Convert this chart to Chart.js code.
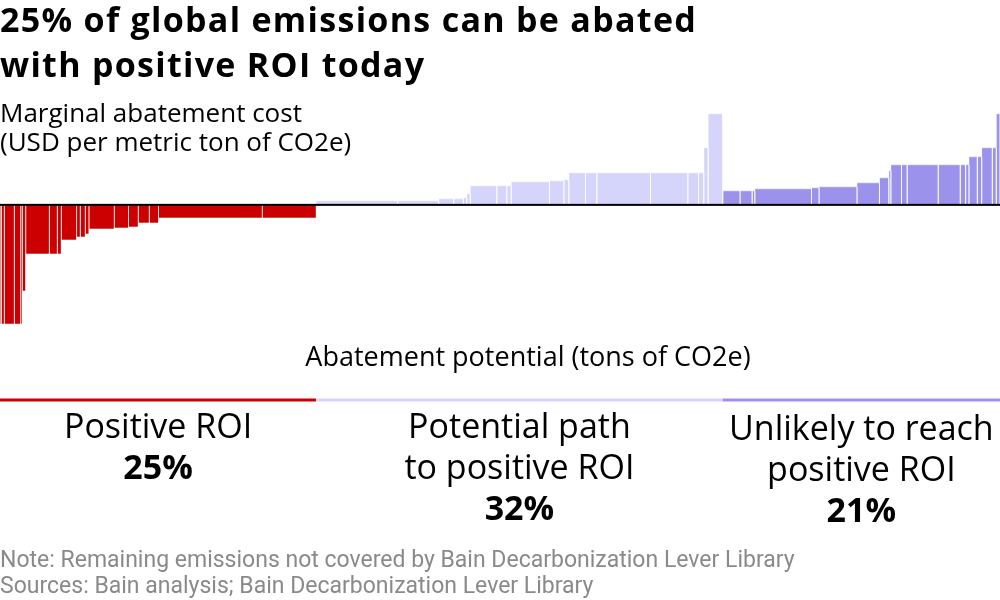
<!DOCTYPE html>
<html>
<head>
<meta charset="utf-8">
<script src="https://cdn.jsdelivr.net/npm/chart.js@4.4.1/dist/chart.umd.min.js"></script>
<style>
  html, body { margin: 0; padding: 0; background: #fff; }
</style>
</head>
<body>
<canvas id="myChart" width="1000" height="600"></canvas>
<script>
// abatement levers: width = share of global emissions (%),
// cost = marginal abatement cost (USD per metric ton of CO2e)
var positiveWidths = [0.10, 0.23, 0.78, 0.50, 0.12, 0.27, 1.84, 0.62, 0.31, 1.20,
  0.28, 0.39, 0.29, 1.97, 1.12, 0.75, 0.86, 0.73, 8.08, 4.21];
var positiveCosts = [-119, -119, -119, -119, -119, -86, -49, -49, -49, -35,
  -32, -32, -29, -24, -23, -22, -18, -18, -13, -13];

var pathWidths = [6.36, 3.20, 1.17, 0.76, 0.26, 0.27, 2.07, 0.78, 0.34, 2.99,
  1.12, 0.39, 1.30, 0.88, 4.19, 2.91, 0.83, 0.41, 0.34, 1.14];
var pathCosts = [4, 4, 6, 6, 7, 11, 19, 19, 19, 23,
  24, 25, 32, 32, 32, 32, 32, 32, 57, 91];

var unlikelyWidths = [1.35, 0.94, 0.21, 4.42, 0.59, 2.96, 1.75, 0.73, 0.16, 0.83,
  0.44, 2.42, 1.72, 0.42, 0.26, 0.65, 0.34, 0.83, 0.31, 0.29];
var unlikelyCosts = [14, 14, 14, 16, 17, 18, 22, 27, 34, 40,
  40, 40, 40, 40, 40, 48, 48, 57, 57, 91];

var groupNames = [["Positive ROI"], ["Potential path", "to positive ROI"], ["Unlikely to reach", "positive ROI"]];
var groupShares = ["25%", "32%", "21%"];
var barColors = ["#cc0000", "#d5d5fc", "#9b92eb"];

var groups = [
  { widths: positiveWidths, costs: positiveCosts },
  { widths: pathWidths, costs: pathCosts },
  { widths: unlikelyWidths, costs: unlikelyCosts }
];

// each lever becomes a closed step filled down to zero
var datasets = [];
var bounds = [0];
var pos = 0;
groups.forEach(function (g, gi) {
  g.widths.forEach(function (w, i) {
    var c = g.costs[i];
    datasets.push({
      data: [{ x: pos, y: 0 }, { x: pos, y: c }, { x: pos + w, y: c }, { x: pos + w, y: 0 }],
      backgroundColor: barColors[gi],
      borderColor: "rgba(255,255,255,0.45)",
      borderWidth: 1,
      fill: "origin",
      pointRadius: 0,
      tension: 0
    });
    pos += w;
  });
  bounds.push(pos);
});

var FONT = "'Open Sans', sans-serif";

var textPlugin = {
  id: "macText",
  beforeDraw: function (chart) {
    // the title font is a bit wider in the original
    chart.ctx.letterSpacing = "1.3px";
  },
  beforeDatasetsDraw: function (chart) {
    chart.ctx.letterSpacing = "0px";
  },
  afterDatasetsDraw: function (chart) {
    var ctx = chart.ctx;
    var ys = chart.scales.y, area = chart.chartArea;
    var y0 = ys.getPixelForValue(0);
    ctx.save();
    ctx.fillStyle = "#000";
    ctx.fillRect(area.left, y0 - 1, area.right - area.left, 2);
    ctx.restore();
  },
  afterDraw: function (chart) {
    var ctx = chart.ctx;
    var xs = chart.scales.x;
    ctx.save();
    ctx.letterSpacing = "0px";
    ctx.fillStyle = "#000";
    ctx.textBaseline = "alphabetic";

    // y axis title
    ctx.textAlign = "left";
    ctx.font = "26px " + FONT;
    ctx.fillText("Marginal abatement cost", 0, 122);
    ctx.fillText("(USD per metric ton of CO2e)", 0, 151);

    // x axis title
    ctx.textAlign = "center";
    ctx.font = "27px " + FONT;
    ctx.fillText("Abatement potential (tons of CO2e)", 528, 366);

    // group bands and labels
    for (var i = 0; i < groupNames.length; i++) {
      var a = xs.getPixelForValue(bounds[i]);
      var b = xs.getPixelForValue(bounds[i + 1]);
      ctx.fillStyle = barColors[i];
      ctx.fillRect(a, 398.5, b - a, 3);
      var cx = (a + b) / 2;
      var y = i === 2 ? 440 : 438;
      ctx.fillStyle = "#000";
      ctx.font = "34px " + FONT;
      groupNames[i].forEach(function (line) {
        ctx.fillText(line, cx, y);
        y += 41;
      });
      ctx.font = "bold 34px " + FONT;
      ctx.fillText(groupShares[i], cx, y);
    }

    // footnotes
    ctx.textAlign = "left";
    ctx.fillStyle = "#8a8a8a";
    ctx.font = "23px Roboto, sans-serif";
    ctx.fillText("Note: Remaining emissions not covered by Bain Decarbonization Lever Library", 0, 567);
    ctx.fillText("Sources: Bain analysis; Bain Decarbonization Lever Library", 0, 593);
    ctx.restore();
  }
};

new Chart("myChart", {
  type: "line",
  data: { datasets: datasets },
  options: {
    responsive: false,
    animation: false,
    layout: { padding: { left: 0, right: 0, top: 0, bottom: 270 } },
    scales: {
      x: { type: "linear", min: 0, max: pos, display: false },
      y: { min: -125, max: 95, display: false }
    },
    plugins: {
      legend: { display: false },
      tooltip: { enabled: false },
      title: {
        display: true,
        align: "start",
        text: ["25% of global emissions can be abated", "with positive ROI today"],
        color: "#000",
        font: { family: FONT, size: 34, weight: "bold", lineHeight: 1.32 },
        padding: { top: 0, bottom: 20 }
      }
    }
  },
  plugins: [textPlugin]
});
</script>
</body>
</html>
